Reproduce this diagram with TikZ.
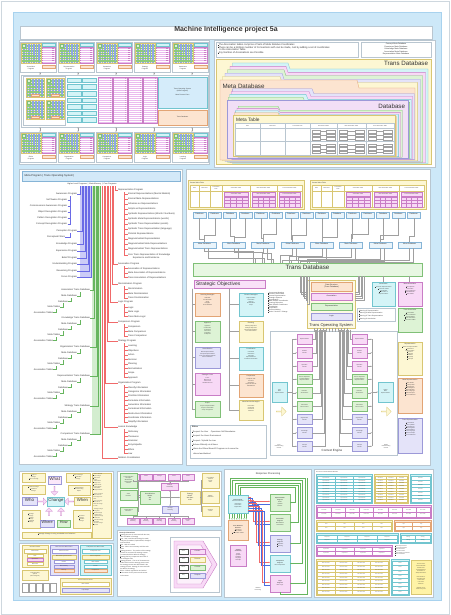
\documentclass[tikz,border=0pt]{standalone}
\usepackage{fontspec}
\setmainfont{Liberation Sans}
\usetikzlibrary{arrows.meta,shapes.arrows,fit,calc}
\definecolor{bluebg}{HTML}{CDE8F8}
\definecolor{bluebd}{HTML}{A8D2EE}
\definecolor{panelD}{HTML}{B9C6D0}
\definecolor{cyanF}{HTML}{D4F4F7}
\definecolor{cyanD}{HTML}{72C5CF}
\definecolor{pinkF}{HTML}{F8D9F6}
\definecolor{pinkD}{HTML}{C97DC6}
\definecolor{greenF}{HTML}{DDF3D5}
\definecolor{greenD}{HTML}{80C077}
\definecolor{yelF}{HTML}{FDF7D3}
\definecolor{yelD}{HTML}{D8C672}
\definecolor{oraF}{HTML}{FCE4D0}
\definecolor{oraD}{HTML}{E2A474}
\definecolor{lavF}{HTML}{E4E3F9}
\definecolor{lavD}{HTML}{9C99D8}
\definecolor{dbF}{HTML}{F2DFF6}
\definecolor{gridF}{HTML}{F6EFB8}
\definecolor{gridB}{HTML}{8FA6E8}
\definecolor{gridG}{HTML}{8CCB7A}
\definecolor{pinkL}{HTML}{EBBBEE}
\definecolor{tosF}{HTML}{D5ECFA}
\definecolor{hdrF}{HTML}{D3E9F8}
\definecolor{hdrD}{HTML}{86B4D6}
\definecolor{lineG}{HTML}{A0A0A0}
\definecolor{treeB}{HTML}{6A6AE6}
\definecolor{treeBF}{HTML}{CBCBF7}
\definecolor{treeG}{HTML}{66B55E}
\definecolor{treeGF}{HTML}{D3EDCF}
\definecolor{treeR}{HTML}{F06A6A}
\definecolor{blueL}{HTML}{4A6CE0}
\definecolor{noteY}{HTML}{FFF3A6}
\definecolor{txt}{HTML}{333333}
\newcommand\fz[2]{\fontsize{#1}{#2}\selectfont}
\newcommand\bu{\rule{0.55ex}{0.55ex}\hspace{0.35ex}}
\newcommand\bx[7]{\node[align=center,#2,fit={(#3,#4)(#5,#6)}] (#1) {#7};}
\tikzset{
 every node/.style={inner sep=0pt,outer sep=0pt,text=txt},
 tA/.style={font=\fz{1.3}{1.65}},
 tB/.style={font=\fz{1.6}{1.95}},
 tC/.style={font=\fz{1.9}{2.3}},
 tD/.style={font=\fz{2.3}{2.8}},
 panel/.style={draw=panelD,fill=white,line width=.4pt},
 cb/.style={draw=cyanD,fill=cyanF,line width=.3pt},
 pb/.style={draw=pinkD,fill=pinkF,line width=.3pt},
 gb/.style={draw=greenD,fill=greenF,line width=.3pt},
 yb/.style={draw=yelD,fill=yelF,line width=.3pt},
 ob/.style={draw=oraD,fill=oraF,line width=.3pt},
 lb/.style={draw=lavD,fill=lavF,line width=.3pt},
 wb/.style={draw=lineG,fill=white,line width=.3pt},
 gl/.style={draw=lineG,line width=.25pt},
 thn/.style={line width=.3pt},
 arr/.style={-{Stealth[length=1.3pt,width=1.1pt]}},
 darr/.style={{Stealth[length=1.3pt,width=1.1pt]}-{Stealth[length=1.3pt,width=1.1pt]}},
}
\newcommand\grid[4]{%
 \fill[gridF] (#1,#2) rectangle ++(#3,#4);
 \foreach \k in {1,...,11}{\draw[gridB,line width=.15pt] ({#1+\k*#3/12},#2) -- ++(0,#4);
   \draw[gridG,line width=.15pt] (#1,{#2+\k*#4/12}) -- ++(#3,0);}
 \draw[yelD,line width=.2pt] (#1,#2) rectangle ++(#3,#4);
 \path[gb,line width=.2pt] ({#1+1},{#2+1}) rectangle ++(3.5,3.5);}
\newcommand\prog[4]{%
 \node[panel,line width=.3pt,fit={(#2,#3)(#2+36,#3+30)}] (#1) {};
 \grid{#2+1}{#3+1}{20}{20}
 \path[cb,line width=.2pt] (#2+22,#3+1) rectangle ++(13,3.5);
 \path[draw=pinkD,fill=pinkL,line width=.2pt] (#2+22,#3+5.5) rectangle ++(13,16);
 \foreach \k in {1,...,7}{\draw[white,line width=.3pt] (#2+22.3,{#3+5.5+\k*2}) -- ++(12.4,0);
   \fill[pinkD] (#2+32.3,{#3+4.1+\k*2}) rectangle ++(1.6,1);}
 \path[ob,line width=.2pt] (#2+22,#3+23) rectangle ++(13,3.5);
 \node[tB,align=center] (#1-l) at (#2+11,#3+25.8) {#4};
 \coordinate (#1-n) at (#2+20,#3);
 \coordinate (#1-s) at (#2+20,#3+30);}
\newcommand\folder[8]{%
 \filldraw[fill=#7,draw=#8,line width=.3pt] (#1,#2) -- (#5,#2) -- ({#5+2},{#2+#6}) -- (#3,{#2+#6}) -- (#3,#4) -- (#1,#4) -- cycle;}
\newcommand\kids[3]{%
 \draw[treeR,thn] (124,#1+2) -- (124,#2);
 \foreach \y/\t in {#3}{\draw[treeR,thn] (124,\y) -- (127.5,\y); \node[tD,anchor=west] at (128,\y) {\t};}}
\newcommand\gmt[1]{%
 \begin{scope}[shift={(#1,0)}]
 \path[yb] (0,180) rectangle (116,209);
 \node[tB,anchor=west] at (2,182.6) {General Meta Table};
 \foreach \a/\b/\t in {2/11/Data,11/22/Meta Data,22/34/{Trans Meta\\Data},34/62/Association Table,62/89/Meta Association Table,89/114/Trans Association Table}{
   \path[draw=yelD,fill=white,line width=.2pt] (\a,185) rectangle (\b,191);
   \node[tA,align=center] at ({(\a+\b)/2},188) {\t};
   \path[draw=yelD,fill=white,line width=.2pt] (\a,191) rectangle (\b,207.5);}
 \foreach \a/\b/\t in {34/62/Association Table,62/89/Meta Association Table,89/114/Trans Association Table}{
   \path[pb,line width=.2pt] (\a+2,192.5) rectangle (\b-2,196);
   \node[tA] at ({(\a+\b)/2},194.3) {\t};
   \foreach \r in {0,1,2}{\foreach \c in {0,1,2,3}{
     \path[draw=pinkD,fill=pinkF,line width=.15pt] ({\a+2+\c*(\b-\a-4)/4},{197+\r*3.2}) rectangle ++({(\b-\a-4)/4},3.2);}}}
 \end{scope}}
\newcommand\tblk[9]{%
 \path[fill=#7,draw=#8,line width=.35pt] (#1,#2) rectangle (#3,#4);
 \foreach \c in {1,...,#5}{\foreach \r in {1,...,#6}{
   \path[fill=white,draw=#8,line width=.15pt] ({#1+1+(\c-1)*(#3-#1-2)/#5},{#2+2.5+(\r-1)*(#4-#2-3.5)/#6}) rectangle ++({(#3-#1-2)/#5},{(#4-#2-3.5)/#6});
   \node[font=\fz{1}{1.2}] at ({#1+1+(\c-0.5)*(#3-#1-2)/#5},{#2+2.5+(\r-0.5)*(#4-#2-3.5)/#6}) {#9};}}}
\newcommand\sbx[8]{%
 \node[#2,fit={(#3,#4)(#5,#6)}] (#1) {};
 \node[tB,anchor=north] at ($(#1.north)+(0,1.3)$) {#7};
 \node[tA,align=center,anchor=north] at ($(#1.north)+(0,4.8)$) {#8};}
\begin{document}
\begin{tikzpicture}[x=1pt,y=-1pt]
\useasboundingbox (0,0) rectangle (450,615);
\fill[white] (0,0) rectangle (450,615);
\draw[panelD!70,line width=.5pt] (1,1) rectangle (449,614);
\node[fill=bluebg,draw=bluebd,line width=.5pt,fit={(13,12)(441,600)}] (bg) {};
\bx{title}{draw=panelD,fill=white,line width=.4pt,font=\fz{7}{8}\bfseries}{20}{26}{432}{39}{Machine Intelligence project 5a}

%================ TOP LEFT
\node[panel,fit={(19,40)(209,164)}] (pTL) {};
\foreach \x/\t [count=\i] in {20/{Association\\Program},58/{Representation\\Program},96/{Generation\\Program},134/{Strategy\\Program},172/{Awareness\\Program}}{\prog{p\i}{\x}{42}{\t}}
\foreach \x/\t [count=\i] in {20/{Ethics\\Program},58/{Organization\\Program},96/{Comparison\\Program},134/{Logic\\Program},172/{Learning\\Program}}{\prog{q\i}{\x}{132}{\t}}
\node[panel,line width=.3pt,fit={(21,75)(208,127)}] (mid) {};
\path[draw=panelD,fill=white,line width=.3pt] (23,76.5) rectangle (65.5,125.5);
\foreach \gx/\gy in {26/78,46/78,26/100,46/100}{\grid{\gx}{\gy}{18}{19}\path[ob,line width=.15pt] (\gx+5,\gy+16.3) rectangle ++(8,2.2);}
\foreach \c in {67.5,82.5}{\foreach \r in {0,...,6}{\path[cb,line width=.2pt] (\c,{78+\r*6.6}) rectangle ++(13.5,4.5);}}
\foreach \c in {98.5,113.5,128.5,143.5}{\path[draw=pinkD,fill=pinkL,line width=.2pt] (\c,77.5) rectangle ++(14,46);
  \foreach \r in {1,...,22}{\draw[white,line width=.25pt] (\c+0.5,{77.5+\r*2}) -- ++(13,0); \fill[pinkD!80] (\c+11,{77.5+\r*2-1.5}) rectangle ++(1.6,1);}}
\bx{tos}{draw=cyanD,fill=tosF,line width=.3pt,tB}{158}{77}{207}{108}{Trans Operating System\\(Meta Program)\\[2pt]Meta Protocol Core}
\bx{tdb0}{ob,tB}{158}{110}{207}{125.5}{Trans Database}
\foreach \i in {1,...,5}{\draw[darr,gl] (p\i-s) -- (p\i-s |- mid.north); \draw[darr,gl] (q\i-n) -- (q\i-n |- mid.south);}

%================ TOP RIGHT
\node[panel,fit={(214,40)(435,167)}] (pTR) {};
\node[draw=panelD,fill=white,line width=.3pt,fit={(216,42.5)(358,57)}] (note) {};
\node[anchor=north west,align=left,font=\fz{2.45}{2.75}] (notet) at (217.5,43.6) {\bu The Association tables comprise of Sets of Meta Relative Coordinates\\\bu There can be a limitless number of Connections with can be made, Just by adding a set of coordinates\\\hspace{1.6ex}to the Association Table\\\bu Any Number of Associations are Possible};
\bx{mdbl}{draw=panelD,fill=white,line width=.3pt,font=\fz{1.9}{2.5}}{361}{42.5}{431}{57}{Concept Meta Database\\Experience Meta Database\\Knowledge Meta Database\\Association Meta Database\\Representation Meta Database}
\node[yb,fit={(216,59)(431,164.5)}] (transdb) {};
\node[anchor=east,font=\fz{6.2}{7}] (transdbt) at (428,63.5) {Trans Database};
\foreach \k/\c/\d in {5/cyanF/cyanD,4/pinkF/pinkD,3/greenF/greenD,2/lavF/lavD,1/yelF/yelD}{\folder{220+2.5*\k}{80-3.4*\k}{415+2.6*\k}{160+0.7*\k}{278+2*\k}{6}{\c}{\d}}
\folder{220}{80}{415}{160}{357}{8}{oraF}{oraD}
\node[font=\fz{6.2}{7},anchor=west] (mdbt) at (222.5,86) {Meta Database};
\foreach \k/\c/\d in {4/lavF/lavD,3/pinkF/pinkD,2/cyanF/cyanD,1/greenF/greenD}{\folder{227+1.4*\k}{100-2.8*\k}{408+1.6*\k}{158+0.4*\k}{300+3*\k}{5}{\c}{\d}}
\node[draw=lavD,fill=dbF,line width=.3pt,fit={(227,100)(408,158)}] (dbf) {};
\node[font=\fz{6.2}{7},anchor=east] (dbft) at (405,106.5) {Database};
\foreach \k/\c/\d in {4/greenF/greenD,3/pinkF/pinkD,2/cyanF/cyanD,1/oraF/oraD}{\folder{233+1.3*\k}{115-2.2*\k}{395+1.8*\k}{156+0.3*\k}{278}{4}{\c}{\d}}
\node[yb,fit={(233,115)(395,156)}] (mtf) {};
\node[font=\fz{4.8}{5.5},anchor=west] (mtft) at (236,119.5) {Meta Table};
\path[draw=panelD,fill=white,line width=.25pt] (235,123) rectangle (394,155);
\foreach \a/\b/\t in {235/260/Data,260/285/Meta Data,285/310/Trans Meta Data,310/337/Association Tables,337/366/Meta Association Table,366/394/Trans Association Table}{\draw[panelD,line width=.25pt] (\a,123) rectangle (\b,155); \node[tA] at ({(\a+\b)/2},125.6) {\t};}
\draw[panelD,line width=.25pt] (235,128) -- (394,128) (235,141.5) -- (394,141.5);
\foreach \a/\b in {310/337,337/366,366/394}{\foreach \ya in {128,141.5}{\foreach \r in {0,1,2}{
  \draw[lineG,line width=.15pt] ({\a+2},{\ya+2.2+\r*3.6}) rectangle ++(8.5,2.6) ({\b-10.5},{\ya+2.2+\r*3.6}) rectangle ++(8.5,2.6);
  \draw[lineG,line width=.15pt] ({\a+10.5},{\ya+3.5+\r*3.6}) -- ({\b-10.5},{\ya+3.5+\r*3.6});}}}

%================ MIDDLE LEFT (tree)
\node[panel,fit={(19,169)(182,464)}] (pML) {};
\node[draw=hdrD,fill=hdrF,line width=.3pt,fit={(22,171.5)(180,181)}] (mph) {};
\node[anchor=west,font=\fz{2.7}{3.2}] (mpht) at (24.5,176.2) {Meta Program ( Trans Operating System)};
\node[font=\fz{1.9}{2.3}] (mphs) at (92,183.6) {Higher Level Programs \ \textbar\ \ Meta Memory \ \textbar\ \ Core Programs};
\fill[treeBF] (79.5,186) rectangle (92.3,278);
\fill[treeGF] (92.3,186) rectangle (100.6,435);
\foreach \t/\y [count=\i from 0] in {Awareness Program/194,Perception Program/231,Knowledge Program/244,Experience Program/251,Belief Program/258,Understanding Program/264,Reasoning Program/271,Focus Program/277}{
  \pgfmathsetmacro\xx{80.3+1.55*\i}
  \node[tD,anchor=east] (bp\i) at (77,\y) {\t};
  \draw[treeB,thn] (\xx,186) |- (bp\i.east);}
\foreach \y/\t in {200/Self Aware Program,206/Consciousness Awareness Program,212/Object Recognition Program,218/Pattern Recognition Program,224/Concept Recognition Program}{
  \node[tD,anchor=east] at (67,\y) {\t}; \draw[treeB,thn] (67.5,\y) -- (70.5,\y);}
\draw[treeB,thn] (70.5,196) -- (70.5,224);
\node[tD,anchor=east] (pf0) at (65,237) {Perceptual Filters};
\draw[treeB,thn] (pf0.east) -- (70.5,237) -- (70.5,233);
\foreach \t/\y [count=\j from 0] in {Association/290,Knowledge/318,Organization/347,Representation/376,Strategy/406,Comparison/434}{
  \pgfmathsetmacro\xx{93+1.4*\j}
  \node[tD,anchor=east] (gt\j) at (90,\y) {\t\ Trans Database};
  \draw[treeG,thn] (\xx,186) |- (gt\j.east);
  \node[tD,anchor=east] (gm\j) at (77,\y+6) {Meta Database};
  \node[tD,anchor=east] (gd\j) at (68,\y+11.5) {Database};
  \node[tD,anchor=east] (gmt\j) at (60,\y+17) {Meta Tables};
  \node[tD,anchor=east] (ga\j) at (53,\y+22.5) {Association Tables};
  \draw[treeG,thn] (gm\j.east) -- (80,\y+6) -- (80,\y+1.6);
  \draw[treeG,thn] (gd\j.east) -- (71,\y+11.5) -- (71,\y+7.6);
  \draw[treeG,thn] (gmt\j.east) -- (63,\y+17) -- (63,\y+13.1);
  \draw[treeG,thn] (ga\j.east) -- (56,\y+22.5) -- (56,\y+18.6);}
\foreach \t/\y [count=\i from 0] in {Representation Program/190,Association Program/264,Discrimination Program/284,Logic Program/302,Comparison Program/322,Strategy Program/341,Organization Program/383,Lexical Knowledge/427,Relation Coordination/458}{
  \pgfmathsetmacro\xx{115-1.6*\i}
  \node[tD,anchor=west] (rp\i) at (118,\y) {\t};
  \draw[treeR,thn] (\xx,186) |- (rp\i.west);}
\kids{190}{255}{194/Internal Representations (Mental Models),199/Internal Meta Representations,204/Schemas as Representations,209/Scripts as Representations,214/{Symbolic Representations (Words / Numbers)},219/Symbolic Meta Representations (words),224/Symbolic Trans Representation (words),229/Symbolic Trans Representation (language),234/Pictorial Representations,239/Diagrammatical Representation,244/Diagrammatical Meta Representations,249/Diagrammatical Trans Representations}
\draw[treeR,thn] (124,255) -- (127.5,255);
\node[tD,anchor=north west,align=left] (corek) at (128,253.7) {Core Trans Representation of Knowledge\\\hspace{4ex}Experience and Existence};
\kids{264}{277.5}{268.5/Association of Representations,273/Meta Association of Representations,277.5/Trans Association of Representations}
\kids{284}{298}{289/Discrimination,293.5/Meta Discrimination,298/Trans Discrimination}
\kids{302}{316.5}{307.5/Logic,312/Meta Logic,316.5/Trans Meta Logic}
\kids{322}{336}{327/Comparison,331.5/Meta Comparison,336/Trans Comparison}
\kids{341}{377.5}{346/Learning,350.5/Objectives,355/Action,359.5/Decision,364/Planning,368.5/Normalization,373/Scope,377.5/Approach}
\kids{383}{421.9}{387.5/Classify Information,391.8/Categorize Information,396.1/Prioritize Information,400.4/Formulate Information,404.7/Generalize Information,409/Formalized Information,413.3/Restructure Information,417.6/Coordinate Information,421.9/Simplify Information}
\kids{427}{453.5}{432/Dictionary,436.3/Thesaurus,440.6/Grammar,444.9/Encyclopedia,449.2/Ethics,453.5/Law}

%================ MIDDLE RIGHT
\node[panel,fit={(186,169)(430,465)}] (pMR) {};
\gmt{188}
\gmt{310}
\foreach \i in {0,...,14}{\pgfmathsetmacro\xa{193+15.3*\i}\bx{db\i}{draw=hdrD,fill=hdrF!50,line width=.3pt,tC}{\xa}{212}{\xa+13}{218}{Database}}
\foreach \j in {0,...,7}{\pgfmathsetmacro\xa{193+29.3*\j}\bx{md\j}{draw=hdrD,fill=hdrF!50,line width=.3pt,tC}{\xa}{242}{\xa+23}{248}{Meta Database}}
\bx{td}{draw=greenD,fill=greenF!70,line width=.3pt,font=\fz{6.2}{7}}{193}{263}{422}{276}{Trans Database}
\foreach \i in {0,...,14}{\pgfmathtruncatemacro\j{\i/2}\pgfmathsetmacro\hh{3+2.2*mod(\i,2)+1.2*mod(\i,3)}
  \draw[gl] (db\i.south) |- ($(md\j.north)+(0,-\hh)$) -- (md\j.north);}
\foreach \j in {0,...,7}{\draw[gl] (md\j.south) |- ($(td.north west)+({60+9*\j},{-12+1.3*\j})$) -- ($(td.north west)+({60+9*\j},0)$);
  \draw[gl] ($(md\j.south)+(4,0)$) |- ($(td.north west)+({62+9*\j},{-5+0.6*\j})$) -- ($(td.north west)+({62+9*\j},0)$);}
\node[draw=pinkD,fill=pinkF!80,line width=.3pt,fit={(194,280)(265,288.5)}] (so) {};
\node[font=\fz{5}{6},anchor=west] (sot) at (196,284.4) {Strategic Objectives};
\sbx{ls}{ob}{195}{293}{220}{316}{Learning Strategies}{Assimilate\\Accommodate\\Scale\\Navigate\\Action Network}
\sbx{apr}{gb}{195}{321}{220}{342}{Approach}{Approach\\Constructive\\Sequential\\Concurrent\\Integrated\\Co-Operate}
\sbx{nrm}{lb}{195}{347}{220}{368}{Normalization}{Meta Representations\\Concept Representations\\Core Trans Representations\\Meta Coordinates}
\sbx{sfo}{pb}{195}{373}{220}{395}{Strategic Focus}{Focus\\Meta Focus\\Trans Focus\\Situational Focus}
\sbx{scp}{gb}{195}{401}{220}{417}{Scope}{Scope of Representation\\Scope of Association\\Scope of Approach}
\sbx{gs}{cb}{239}{293}{263}{316}{Generic Strategies}{Representation\\Association\\Strategy\\Normalization\\Scope}
\sbx{pln}{yb}{239}{321}{263}{342}{Planning}{Planning Objectives\\Strategic Objectives\\Meta Representations\\Trans Associations}
\sbx{crd}{cb}{239}{347}{263}{370}{Coordination}{Coordinate\\Information\\Associate\\Representations\\Coordinate Information}
\sbx{cop}{ob}{239}{374}{263}{397}{Cooperation}{Cooperate with\\the Users\\Operations\\Cooperate with the\\Ethical Board}
\sbx{mds}{yb}{239}{400}{263}{420}{Meta Decision\\Strategies}{\\Associative\\Sequential\\Concurrent\\Collective}
\foreach \b in {ls,apr,nrm,sfo,scp}{\draw[gl] (192,288.5) |- (\b.west);}
\foreach \b in {gs,pln,crd,cop,mds}{\draw[gl] (229,288.5) |- (\b.west);}
\node[anchor=north west,align=left,font=\fz{1.6}{1.75}] (sol) at (268,292) {\bu Concentrate Meaning\\\bu Construct Association\\\bu Context Representation\\\bu Strategic Objective\\\bu Normalization\\\bu Meta Relation Coordination\\\bu Learning Objectives\\\bu Meta Relative Coordinates\\\bu Coordination\\\bu Cooperation\\\bu Decision Making\\\bu Action / Decision / Change};
\node[draw=panelD,fill=white,line width=.3pt,fit={(190,425)(266,458)}] (eth) {};
\node[anchor=north west,align=left,font=\fz{2}{4.4}] (etht) at (192,426.5) {\textbf{Ethics}\\\bu Respect the User \quad Operations Self Boundaries\\\bu Respect the Users Environment\\\bu Respect / Uphold the Law\\\bu Behave Ethically at all times\\\bu Inform the Ethical Board if Program run it cannot be\\\hspace{1.3ex}altered and deleted};
% data structure
\node[draw=yelD,fill=yelF!60,line width=.3pt,fit={(307,280)(355,328)}] (dsc) {};
\bx{ds1}{ob,tC}{311}{282}{352}{291}{Data Structure\\(Trans Database)}
\bx{ds2}{pb,tC}{311}{293.5}{352}{300.5}{Association}
\bx{ds3}{gb,tC}{311}{303}{352}{310}{Representation}
\bx{ds4}{lb,tC}{311}{313}{352}{320}{Logic}
\node[font=\fz{4}{4.8}] (dst) at (331,325) {Trans Operating System};
\foreach \k in {0,...,6}{\draw[gl] ({300+1.5*\k},276) |- ($(dsc.west)+(0,{-12+2*\k})$);}
\foreach \k in {0,...,4}{\draw[gl] ({358+1.5*\k},276) |- ($(dsc.east)+(0,{-12+2*\k})$);}
\sbx{asc}{cb}{372}{282}{395}{306}{Association}{\bu Associate Representations\\\bu Associate Tables\\\bu Coordinates\\\bu Association of\\Representations}
\sbx{masc}{pb}{398}{282}{422}{306}{Meta Association}{\bu Concept Meta\\Association\\\bu Meta Coordinates\\\bu Meta Relations\\\bu Meta Tables}
\sbx{tasc}{gb}{398}{308}{422}{332}{Trans Association}{\bu Trans Tables\\\bu Trans Coordinates\\\bu Trans Relations\\\bu Core Association\\\bu Trans Meta Tables}
\sbx{rep}{yb}{398}{342}{422}{375}{Representation}{\bu Words as Representation\\\bu Symbols as\\Representation\\\bu Pictures\\\bu Diagrams\\\bu Numbers\\\bu Language\\\bu Concepts}
\sbx{mrep}{ob}{398}{378}{422}{413}{Meta Representation}{\bu Meta Words\\\bu Meta Symbols\\\bu Meta Pictures\\\bu Meta Diagrams\\\bu Meta Numbers\\\bu Meta Language\\\bu Meta Concepts\\\bu Meta Coordinates}
\sbx{trep}{lb}{398}{418}{422}{453}{Trans Representation}{\bu Trans Words\\\bu Trans Symbols\\\bu Trans Pictures\\\bu Trans Diagrams\\\bu Trans Numbers\\\bu Trans Language\\\bu Trans Concepts\\\bu Core Coordinates}
\draw[gl] ($(td.south)+(76,0)$) -- (asc.north -| 383.5,0);
\draw[gl] ($(td.south)+(102,0)$) -- ($(td.south)+(102,6)$);
\node[draw=panelD,fill=white,line width=.3pt,fit={(357,308.5)(395,321.5)}] (mng) {};
\node[anchor=west,align=left,font=\fz{1.6}{2.9}] (mngt) at (358.5,315) {\bu Meaning of Representation\\\bu Meaning of Meta Representation\\\bu Meaning of Trans Representation\\\bu Meaning of Association};
% context engine
\node[draw=panelD,fill=white,line width=.3pt,fit={(270,331)(397,455)}] (ce) {};
\bx{imr}{cb,tA}{272}{382}{287}{402}{Input\\Meta\\Representation}
\bx{omr}{cb,tA}{378}{382}{393}{402}{Output\\Meta\\Representation}
\node[single arrow,draw=yelD,fill=yelF,line width=.3pt,minimum height=10pt,minimum width=9pt,single arrow head extend=1.5pt] (ch1) at (281,411.5) {};
\node[single arrow,draw=yelD,fill=yelF,line width=.3pt,minimum height=10pt,minimum width=9pt,single arrow head extend=1.5pt] (ch2) at (386,411.5) {};
\foreach \y/\s/\t [count=\i] in {334/pb/Representation,347.5/pb/{Position\\Context},361/pb/{Operation\\Context},374/gb/{Generic Operation\\Context Relation\\Representations},387.5/gb/{Relevant\\Associations},401/gb/{Associative\\Meta Context},414/lb/{Organization\\Context},427.5/lb/{Knowledge\\Context},441/lb/{Concept\\Context}}{
  \bx{L\i}{\s,tA}{297}{\y}{312}{\y+10.5}{\t}
  \bx{R\i}{\s,tA}{352}{\y}{367}{\y+10.5}{\t}
  \draw[gl,arr] (292,\y+5.25) -- (L\i.west);
  \draw[gl,arr] (R\i.east) -- (372,\y+5.25);
  \draw[gl] ({313.5+1.3*\i},329.5) |- (L\i.east);
  \draw[gl] ({351-1.3*\i},329.5) |- (R\i.west);}
\draw[gl] (292,339.25) -- (292,446.25) (372,339.25) -- (372,446.25);
\draw[gl] (imr.east) -- (292,392);
\draw[gl,arr] (372,392) -- (omr.west);
\foreach \k in {0,...,11}{\draw[gl,arr,densely dotted] ({314.5+3*\k},328) -- ({314.5+3*\k},331.5);}
\node[tA,align=center] (iuc) at (279,446.5) {Input\\Understanding\\Context};
\node[tA,align=center] (ouc) at (386,446.5) {Output\\Understanding\\Context};
\node[font=\fz{3}{3.6}] (cet) at (332,451) {Context Engine};

%================ BOTTOM A
\node[panel,fit={(19,471)(113,540)}] (pA) {};
\bx{a1}{yb,tA,align=left}{22}{473}{45}{482}{\bu Scope of\\Change\\\bu Pace of Change}
\bx{a2}{yb,tA,align=left}{66}{473}{90}{482}{\bu Plan to Change\\\bu Normative\\Change}
\bx{a3}{yb,tA,align=left}{22}{485}{45}{494}{\bu Systemic Change\\\bu Emotional\\Change}
\bx{a4}{yb,tA,align=left}{68}{485}{90}{495}{\bu Small changes\\can have a big\\impact}
\bx{what}{lb,fill=pinkF!60,font=\fz{4.5}{5}}{48}{476.5}{61.5}{484}{What}
\bx{who}{lb,font=\fz{4.5}{5}}{22}{497.5}{37}{505.5}{Who}
\bx{chg}{cb,font=\fz{4.3}{5}}{47.5}{497}{64.5}{506}{Change}
\bx{when}{yb,font=\fz{4.3}{5}}{74.5}{497.5}{90.5}{505.5}{When}
\bx{a5}{yb,tA,align=left}{22}{510}{40}{528}{\bu Strategic\\Change\\\bu Tactical\\Change\\\bu Logistical\\Change}
\bx{where}{lb,font=\fz{3.8}{4.5}}{40.5}{520}{54}{527.5}{Where}
\bx{how}{gb,font=\fz{3.8}{4.5}}{57}{520}{70.5}{527.5}{How}
\bx{a6}{yb,tA,align=left}{73}{510}{90}{528}{\bu Proactive\\Change\\\bu Reactive\\Change}
\bx{a7}{yb,tB}{22}{532}{91}{538}{\bu Strategic Change is using a scalable set of solutions}
\node[single arrow,draw=pinkD,fill=pinkF,line width=.3pt,minimum height=9pt,minimum width=7pt,single arrow head extend=1pt,rotate=-90] (ar1) at (54.5,490.5) {};
\node[single arrow,draw=pinkD,fill=pinkF,line width=.3pt,minimum height=9pt,minimum width=7pt,single arrow head extend=1pt] (ar2) at (42,501.5) {};
\node[single arrow,draw=pinkD,fill=pinkF,line width=.3pt,minimum height=9pt,minimum width=7pt,single arrow head extend=1pt,rotate=180] (ar3) at (69.5,501.5) {};
\node[single arrow,draw=pinkD,fill=pinkF,line width=.3pt,minimum height=8pt,minimum width=7pt,single arrow head extend=1pt,rotate=90] (ar4) at (49,512) {};
\node[single arrow,draw=pinkD,fill=pinkF,line width=.3pt,minimum height=8pt,minimum width=7pt,single arrow head extend=1pt,rotate=90] (ar5) at (61,512) {};
\node[draw=yelD,fill=yelF,line width=.3pt,fit={(92.5,473)(111,538)}] (anote) {};
\node[anchor=north west,align=left,font=\fz{1.2}{1.75}] (anotet) at (93.3,474) {\bu Who is affected\\by the change\\\bu What is the\\change\\\bu When will the\\change occur\\\bu Where will the\\change happen\\\bu How will the\\change be made\\\\\bu Scope of change\\is the extent of\\the change to be\\made\\\bu Pace of change\\is the rate at\\which the change\\is made\\\\\bu Strategic change\\is long term\\\bu Tactical change\\is medium term\\\bu Logistical change\\is short term\\\bu Proactive change\\anticipates\\\bu Reactive change\\responds};

%================ BOTTOM B
\node[panel,fit={(19,543)(113,596)}] (pB) {};
\path[yb] (22,545.5) rectangle (48,567);
\node[tA] (b0) at (35,547.5) {CPU Meta Cluster};
\bx{b1}{draw=yelD,fill=white,line width=.2pt,tA}{24}{549.5}{46}{553.5}{CPU Cluster}
\bx{b2}{draw=yelD,fill=white,line width=.2pt,tA}{27}{554.5}{43}{557.5}{CPU}
\bx{b3}{pb,tA}{27}{558.5}{43}{561.5}{Operations}
\bx{b4}{draw=yelD,fill=white,line width=.2pt,tA}{27}{562.5}{43}{565.5}{Multi Task}
\bx{b5}{yb,tA}{22}{570}{48}{580}{Trans Operating\\System\\(Meta Program)}
\foreach \i in {0,...,4}{\path[draw=lineG,fill=white,line width=.25pt] ({22.5+7*\i},583) rectangle ++(5.5,9);}
\path[lb] (50,545.5) rectangle (78,575);
\node[tA] (c0) at (64,547.5) {Meta Core CPU Meta Cluster};
\bx{c1}{draw=lavD,fill=white,line width=.2pt,tA}{52}{549.5}{76}{553.5}{Meta Core CPU}
\bx{c2}{yb,tA}{52}{555}{76}{559}{Meta Memory Meta Cluster}
\bx{c3}{draw=lavD,fill=white,line width=.2pt,tA}{54}{560.5}{74}{563.5}{Cluster}
\bx{c4}{lb,fill=lavF!60!pinkF,tA}{54}{565}{74}{568}{Meta Memory}
\bx{c5}{ob,tA}{54}{569.5}{74}{572.5}{Memory}
\path[cb] (80,545.5) rectangle (111,575);
\node[tA] (d0) at (95.5,547.5) {Comparison CPU Meta Cluster};
\bx{d1}{draw=cyanD,fill=white,line width=.2pt,tA}{82}{549.5}{109}{553.5}{Comparison CPU}
\bx{d2}{yb,tA}{82}{555}{109}{559}{Meta Comparison}
\bx{d3}{draw=cyanD,fill=white,line width=.2pt,tA}{84}{560.5}{107}{563.5}{Meta Cluster}
\bx{d4}{draw=cyanD,fill=white,line width=.2pt,tA}{84}{565}{107}{568}{Cluster}
\bx{d5}{ob,tA}{84}{569.5}{107}{572.5}{Comparison}
\path[yb] (60,578) rectangle (111,594);
\node[tA] (e0) at (85.5,580) {Neural Gate Meta Cluster};
\bx{e1}{draw=yelD,fill=white,line width=.2pt,tA}{62}{582.5}{109}{586.5}{Meta Cluster}
\bx{e2}{lb,tA}{62}{588.5}{109}{592.5}{Input Output}

%================ BOTTOM C
\node[panel,fit={(117,471)(221,526)}] (pC) {};
\foreach \x/\t [count=\i] in {127/Resolution,140/Vision,153.5/Change,168/Focus,182/Vision}{\bx{tr\i}{pb,tA}{\x}{474}{\x+12}{480}{\t}}
\foreach \x/\t [count=\i] in {127/{Logistical\\Planning},140/{Tactical\\Planning},153.5/{Strategic\\Planning},168/{Future\\Planning},182/{Needed\\Plan}}{\bx{br\i}{pb,tA}{\x}{518}{\x+12}{524}{\t}}
\bx{slead}{pb,tA}{161}{483}{178.5}{490.5}{Strategic\\Leadership}
\bx{nwa}{gb,tB}{140}{491}{160}{504}{Normalization\\[0.5pt]Where\\We\\Are}
\bx{swb}{yb,tB}{180}{491}{200}{504}{Strategy\\[0.5pt]Where\\We Want\\to Be}
\bx{splan}{lb,tA}{162}{506}{178.5}{513}{Strategic\\Planning}
\bx{lc1}{gb,tA}{120}{473}{137}{488}{Current Situation\\Strengths\\Weaknesses\\Opportunities\\Threats}
\bx{lc2}{gb,tA}{120}{490.5}{137}{500.5}{Value\\Measure}
\bx{lc3}{gb,tA}{120}{507}{137}{515}{Organizational\\Resource}
\bx{rc1}{yb,tA}{202}{473}{219}{488}{Core Values\\Desired\\Future\\State}
\bx{rc2}{yb,tA}{202}{491}{219}{503}{Mission\\Statement}
\bx{rc3}{yb,tA}{202}{506}{219}{516}{Strategic\\Vision}
\draw[gl] (tr1.south) |- (170,481.5) (tr5.south) |- (170,481.5);
\foreach \i in {2,3,4}{\draw[gl] (tr\i.south) -- (tr\i.south |- 0,481.5);}
\draw[gl,arr] (170,481.5) -- (slead.north -| 170,0);
\draw[gl,darr] (slead.south -| 170,0) -- (splan.north -| 170,0);
\draw[gl,darr] (nwa.east) -- (swb.west);
\draw[gl] (br1.north) |- (170,516) (br5.north) |- (170,516);
\foreach \i in {2,3,4}{\draw[gl] (br\i.north) -- (br\i.north |- 0,516);}
\draw[gl,arr] (170,516) -- (splan.south -| 170,0);
\draw[gl] (lc1.east) -| (138.5,497.5) -- (nwa.west);
\draw[gl] (lc2.east) -- (nwa.west |- lc2.east);
\draw[gl] (lc3.east) -| (138.5,497.5);
\draw[gl] (rc1.west) -| (201,497.5) -- (swb.east);
\draw[gl] (rc3.west) -| (201,497.5);

%================ BOTTOM D
\node[panel,fit={(117,530)(221,596)}] (pD) {};
\node[anchor=north west,align=left,font=\fz{1.5}{2.02}] (sdim) at (119.5,532.5) {\textbf{Strategic Dimensions}\\\bu Strategy Process is concerned with the How,\\\hspace{1.2ex}Who and When of strategy\\\bu How - how is and should strategy be made,\\\hspace{1.2ex}analysed, formulated, implemented, changed\\\hspace{1.2ex}and controlled\\\bu Who - Who is involved\\\bu When - When are necessary activities take\\\hspace{1.2ex}place\\\bu Strategy Content - The product of the strategy\\\hspace{1.2ex}process is concerned as strategy content\\\hspace{1.2ex}(concerned with the What of strategy)\\\bu Strategy the key components and each of\\\hspace{1.2ex}the strategies tools\\\bu Strategy Context - The set of circumstances\\\hspace{1.2ex}under which both the strategy process and\\\hspace{1.2ex}the strategy content are determined is the\\\hspace{1.2ex}strategy context. Strategy is concerned with\\\hspace{1.2ex}the Where of strategy\\\bu Ethics - Ethical organization and ethical\\\hspace{1.2ex}environment for the process and content\\\hspace{1.2ex}environment};
\node[draw=panelD,fill=white,line width=.3pt,fit={(170,537)(219,592)}] (chev) {};
\filldraw[fill=pinkF,draw=pinkD,line width=.4pt] (174,541) -- (203,541) -- (217,564.5) -- (203,588) -- (174,588) -- cycle;
\filldraw[fill=pinkF!40,draw=pinkD,line width=.3pt] (177,545) -- (201,545) -- (212,564.5) -- (201,584) -- (177,584) -- cycle;
\foreach \y/\s/\t/\u [count=\i] in {549/pb/Content/What,557/yb/Process/How,565/gb/Context/Where,573/lb/Purpose/Why}{
  \bx{cl\i}{draw=black!70,fill=white,line width=.3pt,tA}{179}{\y+0.5}{188}{\y+5}{\u}
  \bx{cr\i}{\s,tB}{190}{\y}{205}{\y+5.5}{\t}}

%================ BOTTOM E
\node[panel,fit={(224,469)(311,597)}] (pE) {};
\node[font=\fz{2.5}{3}] (rpt) at (268,473.5) {Response Processing};
\bx{mp}{cb,tA}{228}{495}{248}{513}{\textbf{Meta Program}\\Meta Protocol Core\\[0.6pt]Information\\Association\\Organization}
\foreach \k in {0,...,7}{\draw[treeG,thn,arr,densely dotted] ({229.5+2.4*\k},513.5) -- ({229.5+2.4*\k},519.5);}
\bx{tds}{ob,tA,align=left}{228}{520}{248}{540}{\textbf{Trans Database}\\\textbf{Structure}\\[0.6pt]\bu Data Items\\\bu Meta Tables\\\bu Association Tables}
\bx{vv}{pb,tA}{230.5}{545}{246}{566}{\textbf{Variable}\\\textbf{Vocabulary}\\[0.6pt]Words\\Symbols\\Numbers\\Language\\Concepts}
\bx{rp}{gb,tA}{270}{494}{290}{511}{\textbf{Representation}\\\textbf{Program}\\[0.6pt]Words\\Symbols\\Pictures}
\bx{ap}{gb,tA}{270}{514}{290}{531}{\textbf{Association}\\\textbf{Program}\\[0.6pt]Meta Relative\\Coordinates}
\bx{sp}{lb,tA}{270}{535}{290}{552}{\textbf{Strategy}\\\textbf{Program}\\[0.6pt]\bu Objectives\\\bu Planning}
\bx{cp}{cb,tA}{270}{555}{290}{572}{\textbf{Comparison}\\\textbf{Program}\\[0.6pt]Meta Comparison}
\bx{lp}{pb,tA}{270}{575}{290}{592}{\textbf{Logic}\\\textbf{Program}\\[0.6pt]Meta Logic}
\foreach \b [count=\i from 0] in {lp,cp,sp,ap,rp}{
  \draw[treeG,line width=.35pt,arr] ($(mp.north west)+({2+2.6*\i},0)$) |- ({305-2.4*\i},{478+2.4*\i}) |- (\b.east);}
\foreach \b [count=\k from 0] in {rp,ap,sp,cp,lp}{
  \draw[treeR,line width=.35pt,arr] (248,{497+3.2*\k}) -| ($(\b.west)+({-19.5+3*\k},-1.2)$) -- ($(\b.west)+(0,-1.2)$);
  \draw[blueL,line width=.35pt,arr] ($(\b.west)+(0,1.2)$) -- ($(\b.west)+({-18+3*\k},1.2)$) |- (248,{498.5+3.2*\k});}
\draw[treeG,line width=.35pt] (lp.south) -- ++(0,2) -| (307.5,478);
\node[tA,align=center] (stp) at (258,589) {Stimulus\\Processing};

%================ BOTTOM F
\node[panel,fit={(314,469)(433,597)}] (pF) {};
\node[tA,anchor=west] (cft) at (316,472) {Core Trans Contextualization Modules};
\tblk{316}{474}{372}{503}{3}{9}{cyanF}{cyanD}{Representation}
\tblk{374}{474}{408}{503}{3}{9}{yelF}{yelD}{Association}
\tblk{410}{474}{431}{503}{1}{7}{cyanF}{cyanD}{Meta Data}
\tblk{316}{505}{431}{518}{8}{2}{pinkF}{pinkD}{Meta Table}
\tblk{316}{520}{392}{531}{4}{2}{yelF}{yelD}{Data}
\tblk{394}{520}{431}{531}{2}{2}{oraF}{oraD}{Logic}
\tblk{316}{533}{398}{543}{4}{2}{cyanF}{cyanD}{Comparison}
\tblk{400}{533}{431}{543}{2}{2}{cyanF}{cyanD}{Strategy}
\tblk{316}{545}{392}{556}{4}{2}{pinkF}{pinkD}{Organization}
\node[anchor=north west,align=left,font=\fz{1.2}{1.7}] (flist) at (395,545.5) {\bu Meta Representation\\\bu Trans Representation\\\bu Meta Association\\\bu Trans Association\\\bu Meta Relative Coordinates\\\bu Core Coordinates};
\tblk{316}{559}{389}{595}{4}{9}{yelF}{yelD}{Meta Association}
\tblk{391}{559}{409}{595}{1}{8}{cyanF}{cyanD}{Context}
\node[draw=yelD,fill=noteY,line width=.3pt,fit={(411,560)(431,594)}] (fnote) {};
\node[align=center,font=\fz{1.2}{1.8}] (fnotet) at (421,577) {The Core Trans\\Contextualization\\Modules hold\\the Meta Relative\\Coordinates of\\all Representations\\\\Each Module is\\associated with\\a Meta Table\\in the Trans\\Database\\\\Modules can be\\added at any time};
\end{tikzpicture}
\end{document}
